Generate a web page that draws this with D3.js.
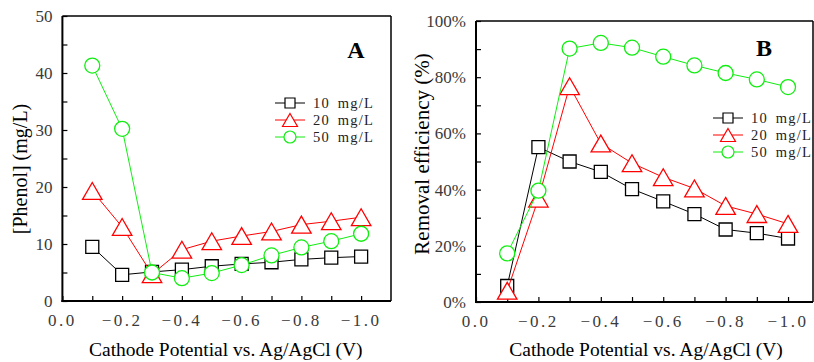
<!DOCTYPE html>
<html>
<head>
<meta charset="utf-8">
<script src="https://cdn.jsdelivr.net/npm/d3@7"></script>
<style>
  html, body { margin: 0; padding: 0; background: #fff; }
  svg { display: block; }
</style>
</head>
<body>
<svg id="chart" width="814" height="362"></svg>
<script>
// Cathode potentials (V vs. Ag/AgCl)
const potentials = [-0.1, -0.2, -0.3, -0.4, -0.5, -0.6, -0.7, -0.8, -0.9, -1.0];

// Panel A: residual phenol concentration (mg/L)
const phenol10 = [9.5, 4.6, 5.1, 5.5, 6.1, 6.5, 6.8, 7.3, 7.6, 7.8];
const phenol20 = [19.3, 13.0, 4.7, 9.0, 10.5, 11.4, 12.2, 13.4, 14.0, 14.7];
const phenol50 = [41.3, 30.2, 5.0, 4.0, 4.9, 6.3, 8.0, 9.4, 10.5, 11.8];

// Panel B: removal efficiency (%)
const removal10 = [5.7, 55.1, 50.0, 46.3, 40.2, 35.8, 31.3, 25.8, 24.5, 22.6];
const removal20 = [4.0, 36.8, 76.8, 56.4, 49.4, 44.4, 40.4, 34.2, 31.3, 27.8];
const removal50 = [17.3, 39.6, 90.2, 92.2, 90.5, 87.3, 84.2, 81.5, 79.2, 76.5];

const seriesNames = ["10 mg/L", "20 mg/L", "50 mg/L"];
const xTickLabels = ["0.0", "\u22120.2", "\u22120.4", "\u22120.6", "\u22120.8", "\u22121.0"];
const phenolTickLabels = ["0", "10", "20", "30", "40", "50"];
const removalTickLabels = ["0%", "20%", "40%", "60%", "80%", "100%"];

const colors = ["#000000", "#ff0000", "#10ee10"];
const shapes = ["square", "triangle", "circle"];

const svg = d3.select("#chart");
const serif = "Liberation Serif, Times New Roman, serif";

function markerPath(shape, s) {
  if (shape === "square") {
    return `M${-s/2},${-s/2}h${s}v${s}h${-s}Z`;
  }
  if (shape === "triangle") {
    const w = s * 1.5, h = s * 1.3;
    return `M0,${-h/2}L${w/2},${h/2}L${-w/2},${h/2}Z`;
  }
  const r = s / 2 + 1;
  return `M${r},0A${r},${r} 0 1,1 ${-r},0A${r},${r} 0 1,1 ${r},0Z`;
}

function drawPanel(cfg) {
  const g = svg.append("g");
  const x = d3.scaleLinear().domain(cfg.xDomain).range([cfg.left, cfg.right]);
  const y = d3.scaleLinear().domain(cfg.yDomain).range([cfg.bottom, cfg.top]);

  // frame
  g.append("line").attr("x1", cfg.left).attr("x2", cfg.right).attr("y1", cfg.top).attr("y2", cfg.top)
    .attr("stroke", "#000").attr("stroke-width", 1.5);
  g.append("line").attr("x1", cfg.right).attr("x2", cfg.right).attr("y1", cfg.top).attr("y2", cfg.bottom)
    .attr("stroke", "#000").attr("stroke-width", 1.5);

  // bottom axis: inward ticks every 0.1 V, labels every 0.2 V
  const xAxis = d3.axisBottom(x)
    .tickValues(d3.range(0, 11).map(i => -i / 10))
    .tickSizeInner(-5).tickSizeOuter(0)
    .tickFormat(() => "");
  const gx = g.append("g").attr("transform", `translate(0,${cfg.bottom})`).call(xAxis);
  gx.select(".domain").attr("stroke-width", 2).attr("d", `M${cfg.left - 1},0H${cfg.right}`);
  gx.selectAll(".tick line").attr("stroke-width", 1.2);

  g.append("g").selectAll("text").data(xTickLabels).join("text")
    .attr("x", (d, i) => x(-0.2 * i))
    .attr("y", cfg.bottom + 25)
    .attr("text-anchor", "middle")
    .attr("font-family", serif).attr("font-size", 17)
    .attr("letter-spacing", 2.5)
    .attr("fill", "#3a3a3a")
    .text(d => d);

  // left axis
  const yAxis = d3.axisLeft(y)
    .tickValues(d3.range(cfg.yDomain[0], cfg.yDomain[1] + 0.001, cfg.yMinor))
    .tickSizeInner(-5).tickSizeOuter(0)
    .tickFormat(() => "");
  const gy = g.append("g").attr("transform", `translate(${cfg.left},0)`).call(yAxis);
  gy.select(".domain").attr("stroke-width", 2).attr("d", `M0,${cfg.bottom + 1}V${cfg.top}`);
  gy.selectAll(".tick line").attr("stroke-width", 1.2);

  g.append("g").selectAll("text").data(cfg.yTickLabels).join("text")
    .attr("x", cfg.left - 10)
    .attr("y", (d, i) => y(cfg.yMajor * i))
    .attr("dy", "0.35em")
    .attr("text-anchor", "end")
    .attr("font-family", serif).attr("font-size", 17)
    .attr("fill", "#3a3a3a")
    .text(d => d);

  // axis titles
  g.append("text")
    .attr("x", (cfg.left + x(-1.0)) / 2 + 14).attr("y", 356)
    .attr("text-anchor", "middle")
    .attr("font-family", serif).attr("font-size", 19.5)
    .text("Cathode Potential vs. Ag/AgCl (V)");

  g.append("text")
    .attr("transform", `translate(${cfg.titleX},${cfg.titleY}) rotate(-90)`)
    .attr("text-anchor", "middle")
    .attr("font-family", serif).attr("font-size", cfg.yTitleSize)
    .text(cfg.yTitle);

  // panel letter
  g.append("text")
    .attr("x", cfg.letterX).attr("y", cfg.letterY)
    .attr("text-anchor", "middle")
    .attr("font-family", serif).attr("font-size", 24).attr("font-weight", "bold")
    .text(cfg.letter);

  // series
  const line = d3.line().x(d => x(d[0])).y(d => y(d[1]));
  cfg.series.forEach((vals, k) => {
    const pts = potentials.map((p, i) => [p, vals[i]]);
    const sg = g.append("g");
    sg.append("path").datum(pts).attr("d", line)
      .attr("fill", "none").attr("stroke", colors[k]).attr("stroke-width", 1);
    sg.selectAll("path.m").data(pts).join("path").attr("class", "m")
      .attr("transform", d => `translate(${x(d[0])},${y(d[1])})`)
      .attr("d", markerPath(shapes[k], 13))
      .attr("fill", "#fff").attr("stroke", colors[k]).attr("stroke-width", 1.3);
  });

  // legend
  const lg = g.append("g").attr("transform", `translate(${cfg.legX},${cfg.legY})`);
  seriesNames.forEach((name, k) => {
    const row = lg.append("g").attr("transform", `translate(0,${k * 17})`);
    row.append("line").attr("x1", -15).attr("x2", 15).attr("y1", 0).attr("y2", 0)
      .attr("stroke", colors[k]).attr("stroke-width", 1);
    row.append("path").attr("d", markerPath(shapes[k], 10))
      .attr("fill", "#fff").attr("stroke", colors[k]).attr("stroke-width", 1.2);
    row.append("text").attr("x", 23).attr("y", 0).attr("dy", "0.35em")
      .attr("font-family", serif).attr("font-size", 14.5)
      .attr("letter-spacing", 1.2).attr("word-spacing", 3)
      .attr("fill", "#222")
      .text(name);
  });
}

drawPanel({
  left: 62.4, right: 391, top: 16, bottom: 301,
  xDomain: [0, -1.1], yDomain: [0, 50], yMinor: 5, yMajor: 10,
  yTickLabels: phenolTickLabels,
  yTitle: "[Phenol] (mg/L)", titleX: 27, titleY: 169, yTitleSize: 20,
  letter: "A", letterX: 356, letterY: 58,
  series: [phenol10, phenol20, phenol50],
  legX: 290, legY: 103
});

drawPanel({
  left: 476, right: 813, top: 21, bottom: 302,
  xDomain: [0, -1.08], yDomain: [0, 100], yMinor: 10, yMajor: 20,
  yTickLabels: removalTickLabels,
  yTitle: "Removal efficiency (%)", titleX: 429, titleY: 154, yTitleSize: 21,
  letter: "B", letterX: 764, letterY: 56,
  series: [removal10, removal20, removal50],
  legX: 728, legY: 118
});
</script>
</body>
</html>
